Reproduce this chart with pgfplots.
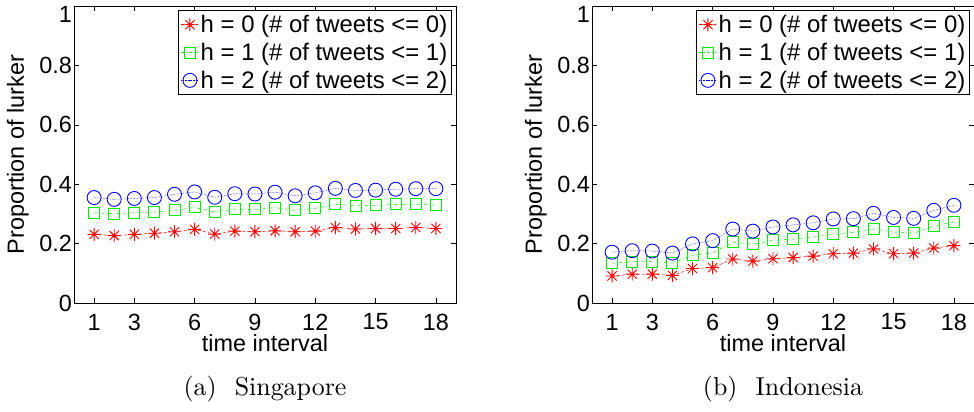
\documentclass[border=0pt]{standalone}
\usepackage{pgfplots}
\pgfplotsset{compat=1.18}
\usepackage{fontspec}
\newfontfamily\arial{Liberation Sans}
\definecolor{mred}{RGB}{255,0,0}
\definecolor{mgreen}{RGB}{0,235,0}
\definecolor{mblue}{RGB}{0,0,255}
% matlab style '*' marker: plus and cross together
\pgfdeclareplotmark{mstar}{%
  \pgfpathmoveto{\pgfqpoint{-\pgfplotmarksize}{0pt}}\pgfpathlineto{\pgfqpoint{\pgfplotmarksize}{0pt}}%
  \pgfpathmoveto{\pgfqpoint{0pt}{-\pgfplotmarksize}}\pgfpathlineto{\pgfqpoint{0pt}{\pgfplotmarksize}}%
  \pgfpathmoveto{\pgfqpoint{-0.707\pgfplotmarksize}{-0.707\pgfplotmarksize}}\pgfpathlineto{\pgfqpoint{0.707\pgfplotmarksize}{0.707\pgfplotmarksize}}%
  \pgfpathmoveto{\pgfqpoint{-0.707\pgfplotmarksize}{0.707\pgfplotmarksize}}\pgfpathlineto{\pgfqpoint{0.707\pgfplotmarksize}{-0.707\pgfplotmarksize}}%
  \pgfusepathqstroke}
\pgfplotsset{
  lurk/.style={
    scale only axis, width=382bp, height=297bp,
    xmin=0, xmax=19, ymin=0, ymax=1,
    xtick={1,3,6,9,12,15,18},
    ytick={0,0.2,0.4,0.6,0.8,1},
    yticklabels={0,0.2,0.4,0.6,0.8,\smash{\raisebox{-17bp}{1}}},
    tick align=inside, major tick length=5bp,
    tick style={black, line width=0.6pt},
    axis line style={line width=0.9pt},
    font=\arial\fontsize{23.5}{27}\selectfont,
    /pgf/number format/assume math mode=true,
    xlabel={time interval}, ylabel={Proportion of lurker},
    xlabel style={at={(axis description cs:0.5,0)}, anchor=center, yshift=-40bp},
    ylabel style={at={(axis description cs:-0.147,0.5)}, anchor=center},
    xticklabel style={anchor=center, yshift=-19bp},
    yticklabel style={inner xsep=2bp},
    legend style={at={(rel axis cs:0.99,0.985)}, anchor=north east,
      font=\arial\fontsize{24}{27}\selectfont, row sep=5bp,
      inner sep=2.5bp, draw=black, line width=0.8pt,
      cells={anchor=west}},
    legend image post style={line width=0.6pt},
    legend cell align=left,
  },
  s0/.style={mred, densely dashed, line width=0.5pt, mark=mstar, mark size=6.5bp, mark options={solid, line width=0.9pt}},
  s1/.style={mgreen, dash dot, line width=0.5pt, mark=square, mark size=5.5bp, mark options={solid, line width=0.9pt}},
  s2/.style={mblue, densely dotted, line width=0.5pt, mark=o, mark size=7bp, mark options={solid, line width=0.9pt}},
}
\begin{document}
\begin{tikzpicture}
\begin{axis}[lurk, name=sg]
\addplot[s0] coordinates {(1,0.231) (2,0.227) (3,0.231) (4,0.235) (5,0.240) (6,0.248) (7,0.232) (8,0.242) (9,0.240) (10,0.243) (11,0.240) (12,0.242) (13,0.254) (14,0.249) (15,0.251) (16,0.251) (17,0.254) (18,0.251)};
\addplot[s1] coordinates {(1,0.304) (2,0.300) (3,0.304) (4,0.306) (5,0.312) (6,0.322) (7,0.307) (8,0.316) (9,0.315) (10,0.321) (11,0.312) (12,0.319) (13,0.332) (14,0.328) (15,0.329) (16,0.332) (17,0.332) (18,0.330)};
\addplot[s2] coordinates {(1,0.355) (2,0.349) (3,0.352) (4,0.355) (5,0.366) (6,0.374) (7,0.356) (8,0.368) (9,0.367) (10,0.373) (11,0.361) (12,0.371) (13,0.386) (14,0.379) (15,0.380) (16,0.383) (17,0.385) (18,0.385)};
\legend{h = 0 (\# of tweets <= 0), h = 1 (\# of tweets <= 1), h = 2 (\# of tweets <= 2)}
\end{axis}
\node[scale=2.6, transform shape] at ([yshift=-86bp]sg.south) {(a)\hspace{0.7em}Singapore};
\begin{axis}[lurk, name=id, xshift=518bp]
\addplot[s0] coordinates {(1,0.091) (2,0.097) (3,0.097) (4,0.093) (5,0.116) (6,0.119) (7,0.148) (8,0.141) (9,0.149) (10,0.153) (11,0.158) (12,0.166) (13,0.168) (14,0.182) (15,0.166) (16,0.168) (17,0.185) (18,0.193)};
\addplot[s1] coordinates {(1,0.134) (2,0.139) (3,0.139) (4,0.134) (5,0.161) (6,0.169) (7,0.205) (8,0.198) (9,0.211) (10,0.215) (11,0.222) (12,0.231) (13,0.238) (14,0.249) (15,0.239) (16,0.235) (17,0.259) (18,0.273)};
\addplot[s2] coordinates {(1,0.171) (2,0.176) (3,0.175) (4,0.168) (5,0.199) (6,0.210) (7,0.249) (8,0.242) (9,0.256) (10,0.263) (11,0.270) (12,0.283) (13,0.284) (14,0.302) (15,0.288) (16,0.285) (17,0.312) (18,0.329)};
\legend{h = 0 (\# of tweets <= 0), h = 1 (\# of tweets <= 1), h = 2 (\# of tweets <= 2)}
\end{axis}
\node[scale=2.6, transform shape] at ([yshift=-86bp]id.south) {(b)\hspace{0.7em}Indonesia};
\pgfresetboundingbox
\useasboundingbox (-74bp,-109bp) rectangle (900bp,303bp);
\end{tikzpicture}
\end{document}
